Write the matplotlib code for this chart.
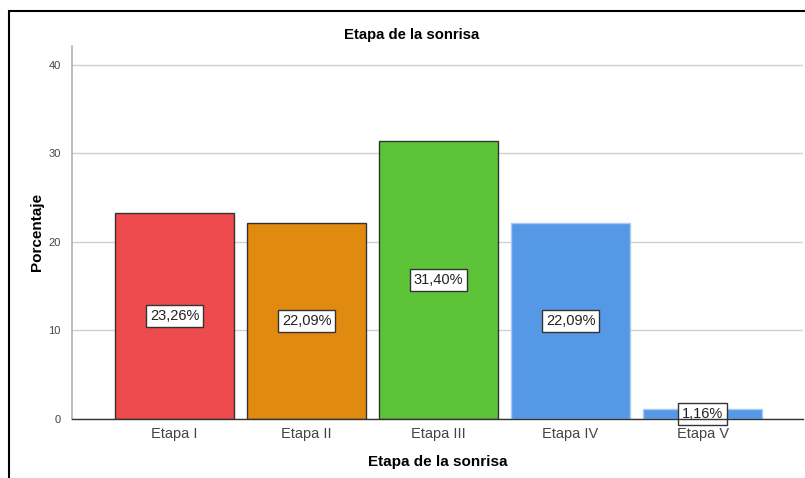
import matplotlib.pyplot as plt
from matplotlib.patches import Rectangle

plt.rcParams['font.family'] = ['Liberation Sans', 'DejaVu Sans']

# datos
etapas = ['Etapa I', 'Etapa II', 'Etapa III', 'Etapa IV', 'Etapa V']
porcentajes = [23.26, 22.09, 31.40, 22.09, 1.16]
etiquetas = ['23,26%', '22,09%', '31,40%', '22,09%', '1,16%']
colores = ['#EE4B4E', '#E08A10', '#5DC43A', '#5599E6', '#5599E6']
bordes = ['#333333', '#333333', '#333333', '#A9CBF2', '#A9CBF2']

fig = plt.figure(figsize=(8.05, 4.78), dpi=100)
ax = fig.add_axes([72/805, 1 - 419/478, 731/805, 373/478])

# marco exterior
fig.patches.append(Rectangle((9/805, -0.1), 1.2, 1 - 11/478 + 0.1,
                             transform=fig.transFigure, fill=False,
                             edgecolor='black', linewidth=1.5))

x = list(range(len(etapas)))
ax.bar(x, porcentajes, width=0.9, color=colores, edgecolor=bordes,
       linewidth=1.0, zorder=3)

for xi, v, t in zip(x, porcentajes, etiquetas):
    ax.text(xi, v / 2, t, ha='center', va='center', fontsize=10.5,
            color='#222222', zorder=4,
            bbox=dict(boxstyle='square,pad=0.25', facecolor='white',
                      edgecolor='#333333', linewidth=1.0))

ax.set_xlim(-0.776, 4.76)
ax.set_ylim(0, 42.1)
ax.set_yticks([0, 10, 20, 30, 40])
ax.set_xticks(x)
ax.set_xticklabels(etapas, fontsize=10.5, color='#444444')
ax.tick_params(axis='y', length=0, labelsize=8, labelcolor='#444444', pad=8)
ax.tick_params(axis='x', length=0, pad=6)
ax.grid(axis='y', color='#D0D0D0', linewidth=1.0, zorder=0)

for s in ['top', 'right']:
    ax.spines[s].set_visible(False)
ax.spines['left'].set_color('#B0B0B0')
ax.spines['left'].set_linewidth(1.2)
ax.spines['bottom'].set_color('#333333')
ax.spines['bottom'].set_linewidth(1.0)
ax.spines['bottom'].set_zorder(5)

ax.set_xlabel('Etapa de la sonrisa', fontsize=11, fontweight='bold', labelpad=10)
fig.text(37/805, 1 - 232/478, 'Porcentaje', rotation=90, ha='center',
         va='center', fontsize=11, fontweight='bold')
fig.text(412/805, 1 - 35/478, 'Etapa de la sonrisa', ha='center', va='center',
         fontsize=10.7, fontweight='bold')

fig.savefig('out.png', dpi=100)
